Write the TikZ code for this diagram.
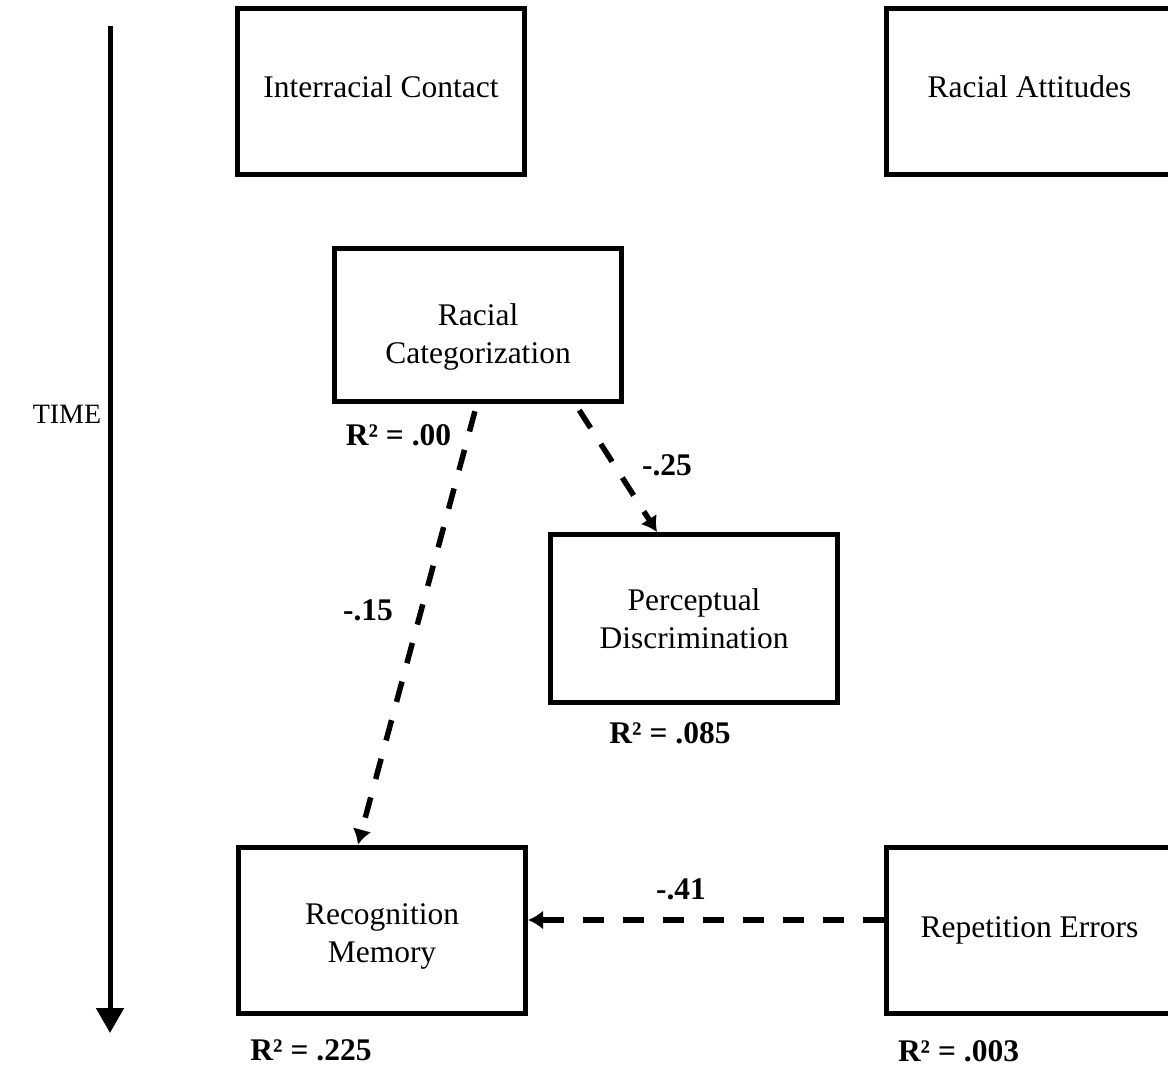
\documentclass[tikz,border=0pt]{standalone}
\usepackage{fontspec}
\setmainfont{Liberation Serif}
\usetikzlibrary{arrows.meta}

\begin{document}
\begin{tikzpicture}[x=1pt, y=-1pt, >={Latex[length=15pt,width=19pt]},
    inner sep=0pt, align=center,
    every node/.style={font=\fontsize{31.5}{38}\selectfont}]

  \tikzstyle{box}=[draw, line width=5pt, minimum width=287pt, minimum height=166pt]
  \tikzstyle{coef}=[font=\fontsize{31.5}{38}\selectfont\bfseries, anchor=base]
  \tikzstyle{link}=[->, dash pattern=on 21pt off 19pt, line width=5.5pt]

  \useasboundingbox (0,0) rectangle (1168,1069);
  \clip (0,0) rectangle (1168,1069);

  % time axis
  \coordinate (tstart) at (110,26);
  \coordinate (tend) at (110,1033);
  \draw[line width=5pt, -{Triangle[width=27pt,length=25pt]}] (tstart) -- (tend);
  \node[anchor=base, font=\fontsize{28}{34}\selectfont] (time) at (67,423) {TIME};

  \node[box, label={[yshift=4pt]center:Interracial Contact}] (IC) at (381,91) {};
  \node[box, label={[yshift=4pt]center:Racial Attitudes}] (RA) at (1029.5,91) {};
  \node[box, minimum height=153pt,
    label={[yshift=-12pt]center:Racial\\Categorization}] (RC) at (478,324.5) {};
  \node[box, minimum height=168pt,
    label={center:Perceptual\\Discrimination}] (PD) at (694,618.5) {};
  \node[box, label={[yshift=-6pt]center:Recognition\\Memory}] (RM) at (382,930) {};
  \node[box, label={center:Repetition Errors}] (RE) at (1029.5,930) {};

  \path[link]
  ([xshift=-1pt]RC.south) edge [shorten <=8pt] ([xshift=-24pt]RM.north)
  ([xshift=97pt]RC.south) edge [shorten <=8pt] ([xshift=-37pt]PD.north)
  ([yshift=10pt]RE.west) edge ([yshift=10pt]RM.east);

  \node[coef] (rcrm) at (368,620) {-.15};
  \node[coef] (rcpd) at (667,475) {-.25};
  \node[coef] (rerm) at (681,899) {-.41};

  \node[coef] (r2rc) at (398.5,445) {R² = .00};
  \node[coef] (r2pd) at (670,743) {R² = .085};
  \node[coef] (r2rm) at (311,1060) {R² = .225};
  \node[coef] (r2re) at (958.5,1061) {R² = .003};
\end{tikzpicture}
\end{document}
